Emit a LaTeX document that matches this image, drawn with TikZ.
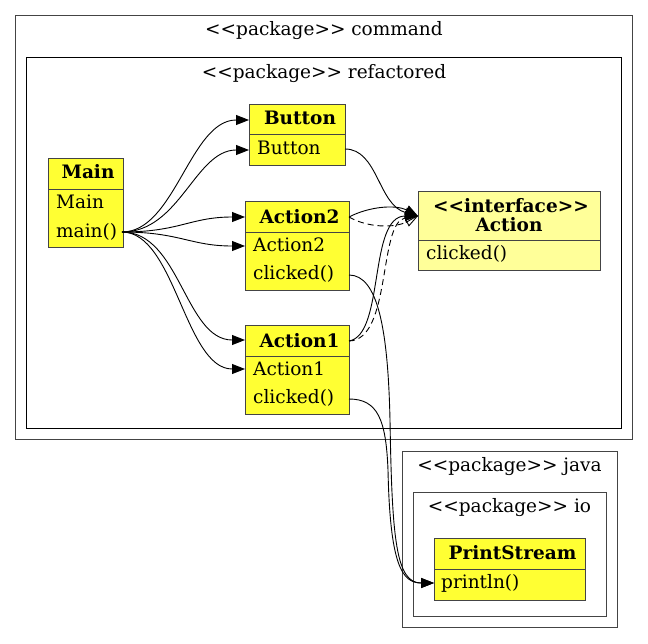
\documentclass[tikz,border=0pt]{standalone}
\usepackage{fontspec}
\setmainfont{DejaVu Serif}
\usetikzlibrary{arrows.meta}
\definecolor{clsyellow}{HTML}{FFFF33}
\definecolor{ifyellow}{HTML}{FFFF99}
\definecolor{framegray}{HTML}{444444}
\newcommand{\ltlt}{<\kern0pt<}
\newcommand{\gtgt}{>\kern0pt>}
\tikzset{
  frame/.style={draw=framegray, line width=0.95pt, inner sep=0pt, outer sep=0pt, anchor=north west},
  cls/.style={draw=framegray, fill=clsyellow, line width=0.95pt, inner sep=0pt, outer sep=0pt, anchor=north west},
  iface/.style={cls, fill=ifyellow},
  sep/.style={draw=framegray, line width=0.95pt},
  txt/.style={font=\fontsize{18.5}{22}\selectfont, inner sep=0pt},
  btxt/.style={font=\fontsize{18.5}{22}\selectfont\bfseries, inner sep=0pt},
  assoc/.style={-{Triangle[length=13pt,width=10pt]}, line width=0.9pt},
  realz/.style={dash pattern=on 6pt off 4pt, -{Triangle[open,length=13pt,width=10pt]}, line width=0.9pt},
}
\begin{document}
\begin{tikzpicture}[x=1pt,y=-1pt]
\useasboundingbox (0,0) rectangle (648,643);
% frames
\node[frame, minimum width=617pt, minimum height=424pt] (command) at (15,15) {};
\node[txt, anchor=base] (commandT) at (324,35) {\ltlt package\gtgt\ command};
\node[frame, draw=black, minimum width=595pt, minimum height=371pt] (refactored) at (26,57) {};
\node[txt, anchor=base] (refactoredT) at (324,78) {\ltlt package\gtgt\ refactored};
\node[frame, minimum width=215pt, minimum height=176pt] (java) at (402,451) {};
\node[txt, anchor=base] (javaT) at (509.5,471) {\ltlt package\gtgt\ java};
\node[frame, minimum width=193pt, minimum height=124pt] (io) at (413,492) {};
\node[txt, anchor=base] (ioT) at (509.5,512) {\ltlt package\gtgt\ io};

% Main
\node[cls, minimum width=75pt, minimum height=89pt] (Main) at (48,158) {};
\draw[sep] (48,189) -- (123,189);
\node[btxt, anchor=base] (MainH) at (88,178) {Main};
\node[txt, anchor=base west] (MainR1) at (56,208) {Main};
\node[txt, anchor=base west] (MainR2) at (56,237) {main()};
\coordinate (mainp) at (122,232);

% Button
\node[cls, minimum width=96pt, minimum height=61pt] (Button) at (249,104) {};
\draw[sep] (249,134) -- (345,134);
\node[btxt, anchor=base] (ButtonH) at (300,124) {Button};
\node[txt, anchor=base west] (ButtonR1) at (257,154) {Button};
\coordinate (btnH) at (249,120);
\coordinate (btnR) at (249,150);
\coordinate (btnRo) at (345,149);

% Action2
\node[cls, minimum width=104pt, minimum height=89pt] (Action2) at (245,201) {};
\draw[sep] (245,232) -- (349,232);
\node[btxt, anchor=base] (Action2H) at (299.5,223) {Action2};
\node[txt, anchor=base west] (Action2R1) at (253,251) {Action2};
\node[txt, anchor=base west] (Action2R2) at (253,279) {clicked()};
\coordinate (a2H) at (245,217);
\coordinate (a2R) at (245,246);
\coordinate (a2Ho) at (349,217);
\coordinate (a2Co) at (349,275);

% Action1
\node[cls, minimum width=104pt, minimum height=89pt] (Action1) at (245,325) {};
\draw[sep] (245,356) -- (349,356);
\node[btxt, anchor=base] (Action1H) at (299.5,347) {Action1};
\node[txt, anchor=base west] (Action1R1) at (253,375) {Action1};
\node[txt, anchor=base west] (Action1R2) at (253,403) {clicked()};
\coordinate (a1H) at (245,340);
\coordinate (a1R) at (245,369);
\coordinate (a1Ho) at (349,341);
\coordinate (a1Co) at (349,399);

% interface Action
\node[iface, minimum width=182pt, minimum height=79pt] (Action) at (418,191) {};
\draw[sep] (418,240) -- (600,240);
\node[btxt, anchor=base] (ActionH1) at (511,212) {\ltlt interface\gtgt};
\node[btxt, anchor=base] (ActionH2) at (509,231) {Action};
\node[txt, anchor=base west] (ActionR1) at (426,259) {clicked()};
\coordinate (ifW) at (418,216);

% PrintStream
\node[cls, minimum width=151pt, minimum height=62pt] (PrintStream) at (434,538) {};
\draw[sep] (434,569) -- (585,569);
\node[btxt, anchor=base] (PrintStreamH) at (512.5,559) {PrintStream};
\node[txt, anchor=base west] (PrintStreamR1) at (441,588) {println()};
\coordinate (psW) at (434,583);

% edges from main()
\draw[assoc] (mainp) .. controls (175,232) and (190,120) .. (btnH);
\draw[assoc] (mainp) .. controls (180,232) and (195,150) .. (btnR);
\draw[assoc] (mainp) .. controls (180,232) and (190,217) .. (a2H);
\draw[assoc] (mainp) .. controls (180,232) and (190,246) .. (a2R);
\draw[assoc] (mainp) .. controls (180,232) and (185,340) .. (a1H);
\draw[assoc] (mainp) .. controls (175,232) and (185,369) .. (a1R);

% to interface
\draw[assoc] (btnRo) .. controls (378,149) and (378,205) .. (ifW);
\draw[assoc] (a2Ho) .. controls (368,207) and (395,204) .. (ifW);
\draw[realz] (a2Ho) .. controls (368,228) and (395,228) .. (ifW);
\draw[assoc] (a1Ho) .. controls (385,335) and (368,216) .. (ifW);
\draw[realz] (a1Ho) .. controls (392,340) and (378,222) .. (ifW);

% to println()
\draw[assoc] (a2Co) .. controls (378,275) and (388,330) .. (390,420) .. controls (392,540) and (396,583) .. (psW);
\draw[assoc] (a1Co) .. controls (378,399) and (386,420) .. (388,470) .. controls (390,565) and (402,583) .. (psW);
\end{tikzpicture}
\end{document}
